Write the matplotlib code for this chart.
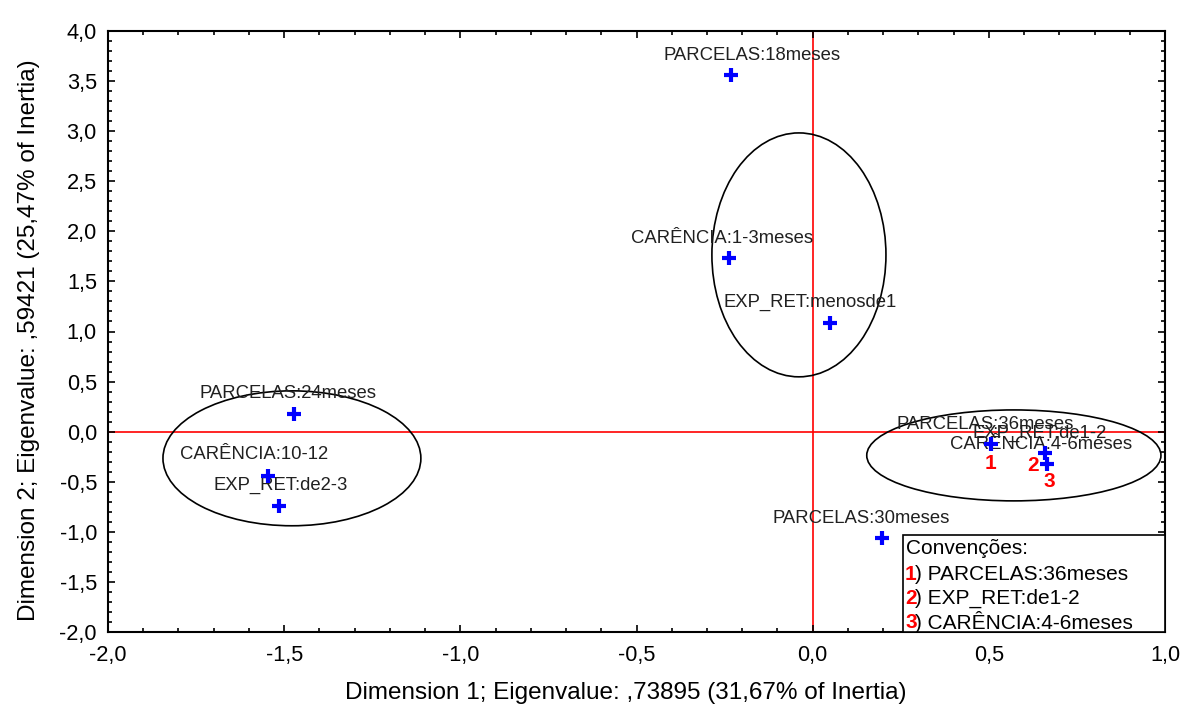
import numpy as np
import matplotlib.pyplot as plt
from matplotlib.patches import Ellipse, Rectangle
from matplotlib.ticker import MultipleLocator, FuncFormatter

plt.rcParams['font.family'] = ['Liberation Sans', 'DejaVu Sans']

# coordenadas das categorias (dim 1, dim 2)
rotulos = ["PARCELAS:18meses", "CARÊNCIA:1-3meses", "EXP_RET:menosde1",
           "PARCELAS:24meses", "CARÊNCIA:10-12", "EXP_RET:de2-3",
           "PARCELAS:30meses", "PARCELAS:36meses", "EXP_RET:de1-2",
           "CARÊNCIA:4-6meses"]
dim1 = [-0.232, -0.237, 0.049, -1.472, -1.546, -1.515, 0.197, 0.506, 0.660, 0.665]
dim2 = [3.56, 1.73, 1.085, 0.178, -0.44, -0.74, -1.06, -0.12, -0.21, -0.32]

# deslocamento do texto em pontos (x, y)
desloc = [(15, 14), (-5, 14), (-14, 15), (-4, 15), (-10, 15), (1, 15),
          (-15, 14), (-4, 14), (-4, 14), (-4, 14)]

# grupos (centro x, centro y, largura, altura)
grupos_cx = [-0.039, -1.478, 0.571]
grupos_cy = [1.765, -0.266, -0.237]
grupos_w = [0.494, 0.732, 0.835]
grupos_h = [2.435, 1.347, 0.908]

convencoes = ["PARCELAS:36meses", "EXP_RET:de1-2", "CARÊNCIA:4-6meses"]
num_desloc = [(0, -14), (-9, -9), (2, -13)]

fig = plt.figure(figsize=(11.84, 7.13), dpi=100)
ax = fig.add_axes([108 / 1184, 81 / 713, 1057 / 1184, 601 / 713])
ax.set_xlim(-2.0, 1.0)
ax.set_ylim(-2.0, 4.0)

ax.axhline(0, color='red', lw=1.2, zorder=1)
ax.axvline(0, color='red', lw=1.2, zorder=1)

for cx, cy, w, h in zip(grupos_cx, grupos_cy, grupos_w, grupos_h):
    ax.add_patch(Ellipse((cx, cy), w, h, fill=False, ec='black', lw=1.2, zorder=2))

ax.plot(dim1, dim2, linestyle='none', marker='+', color='#0000ff',
        markersize=10, markeredgewidth=3, zorder=4)

for r, x, y, (dx, dy) in zip(rotulos, dim1, dim2, desloc):
    ax.annotate(r, (x, y), xytext=(dx, dy), textcoords='offset points',
                ha='center', va='center', fontsize=13.3, color='#202020', zorder=3)

for i, nome in enumerate(convencoes):
    idx = rotulos.index(nome)
    dx, dy = num_desloc[i]
    ax.annotate(str(i + 1), (dim1[idx], dim2[idx]), xytext=(dx, dy),
                textcoords='offset points', ha='center', va='center',
                fontsize=15, fontweight='bold', color='red', zorder=5)

# caixa de convenções
caixa = Rectangle((903 / 1184, 81 / 713), (1165 - 903) / 1184, (632 - 535) / 713,
                  transform=fig.transFigure, fill=True, fc='white', ec='black',
                  lw=1.2, zorder=6)
fig.patches.append(caixa)
fig.text(906 / 1184, 1 - 549 / 713, "Convenções:", fontsize=15, va='center', zorder=7)
for i, nome in enumerate(convencoes):
    yy = 1 - (574 + 24 * i) / 713
    fig.text(905 / 1184, yy, str(i + 1), fontsize=15, fontweight='bold',
             color='red', va='center', zorder=7)
    fig.text(915 / 1184, yy, ") " + nome, fontsize=15, va='center', zorder=7)

fmt = FuncFormatter(lambda v, p: f"{v:.1f}".replace('.', ','))
ax.xaxis.set_major_locator(MultipleLocator(0.5))
ax.yaxis.set_major_locator(MultipleLocator(0.5))
ax.xaxis.set_minor_locator(MultipleLocator(0.1))
ax.yaxis.set_minor_locator(MultipleLocator(0.1))
ax.xaxis.set_major_formatter(fmt)
ax.yaxis.set_major_formatter(fmt)
ax.tick_params(which='both', direction='in', top=True, right=True, width=1.2)
ax.tick_params(which='major', length=5, labelsize=15.7)
ax.tick_params(axis='x', which='major', pad=9)
ax.tick_params(axis='y', which='major', pad=8)
ax.tick_params(which='minor', length=3)
for s in ax.spines.values():
    s.set_linewidth(1.5)

ax.set_xlabel("Dimension 1; Eigenvalue: ,73895 (31,67% of Inertia)", fontsize=17.5, labelpad=12)
ax.set_ylabel("Dimension 2; Eigenvalue: ,59421 (25,47% of Inertia)", fontsize=17.5, labelpad=14)
ax.xaxis.label.set_x(0.49)
ax.yaxis.label.set_y(0.486)

fig.savefig("out.png", dpi=100)
